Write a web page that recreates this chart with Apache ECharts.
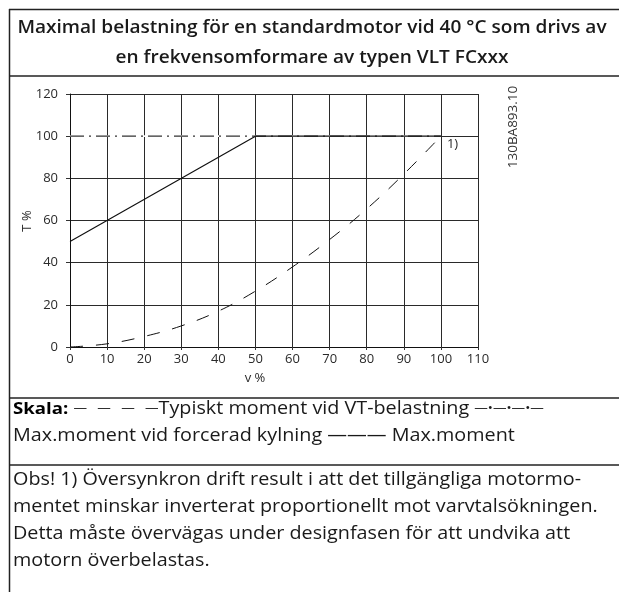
<!DOCTYPE html>
<html>
<head>
<meta charset="utf-8">
<script src="https://cdn.jsdelivr.net/npm/echarts@6/dist/echarts.min.js"></script>
<style>
  html, body { margin: 0; padding: 0; background: #fff; }
  #chart { width: 619px; height: 592px; }
</style>
</head>
<body>
<div id="chart"></div>
<script>
// Speed axis (v %) and torque axis (T %)
const speedTicks = [0, 10, 20, 30, 40, 50, 60, 70, 80, 90, 100, 110];
const torqueTicks = [0, 20, 40, 60, 80, 100, 120];

// Max torque with forced cooling (dash-dot)
const forcedCoolingSpeed = [0, 100];
const forcedCoolingTorque = [100, 100];

// Max torque (solid)
const maxTorqueSpeed = [0, 50, 100];
const maxTorqueValues = [50, 100, 100];

// Typical torque at VT load (dashed)
const vtSpeed = [0, 10, 20, 30, 40, 50, 60, 70, 80, 90, 100];
const vtTorque = [0, 1.5, 5, 10, 17, 26.5, 38, 51, 65.5, 82, 100];

const titleLines = [
  'Maximal belastning för en standardmotor vid 40 °C som drivs av',
  'en frekvensomformare av typen VLT FCxxx'
];
const legendLines = [
  '{b|Skala:} {d|—}  {d|—}  {d|—}  {d|—}Typiskt moment vid VT-belastning {d|—•—•—•—}',
  'Max.moment vid forcerad kylning ——— Max.moment'
];
const noteLines = [
  'Obs! 1) Översynkron drift result i att det tillgängliga motormo-',
  'mentet minskar inverterat proportionellt mot varvtalsökningen.',
  'Detta måste övervägas under designfasen för att undvika att',
  'motorn överbelastas.'
];
const drawingId = '130BA893.10';
const footnoteMark = '1)';
const xName = 'v %';
const yName = 'T %';

const FONT = '"Open Sans", "Noto Sans", sans-serif';
const TXT = '#1a1a1a';
const AXTXT = '#2a2a2a';

const pairs = (xs, ys) => xs.map((x, i) => [x, ys[i]]);

const chart = echarts.init(document.getElementById('chart'), null, { renderer: 'canvas' });

const graphics = [];
// frame lines
const hline = (y) => ({ type: 'line', shape: { x1: 9, y1: y, x2: 619, y2: y },
  style: { stroke: '#222', lineWidth: 1.5 }, silent: true });
graphics.push(hline(9.5), hline(76), hline(398), hline(465));
graphics.push({ type: 'line', shape: { x1: 9.5, y1: 9, x2: 9.5, y2: 592 },
  style: { stroke: '#222', lineWidth: 1.5 }, silent: true });

titleLines.forEach((t, i) => graphics.push({
  type: 'text', x: 312, y: 28 + i * 30, scaleX: 1.03,
  style: { text: t, fill: TXT, font: '600 18.5px ' + FONT, align: 'center', verticalAlign: 'middle' }
}));
legendLines.forEach((t, i) => graphics.push({
  type: 'text', x: 13, y: 409 + i * 27, scaleX: 1.13,
  style: { text: t, fill: TXT, fontSize: 17.5, fontFamily: FONT, align: 'left', verticalAlign: 'middle',
    rich: {
      b: { fontWeight: 'bold', fontSize: 16.5, fontFamily: FONT, fill: '#000' },
      d: { fontSize: 12, fontFamily: FONT, fill: TXT }
    } }
}));
noteLines.forEach((t, i) => graphics.push({
  type: 'text', x: 13, y: 480 + i * 27, scaleX: 1.13,
  style: { text: t, fill: TXT, fontSize: 17.5, fontFamily: FONT, align: 'left', verticalAlign: 'middle' }
}));
graphics.push({
  type: 'text', x: 513, y: 127, rotation: Math.PI / 2,
  style: { text: drawingId, fill: '#333', fontSize: 13.5, fontFamily: FONT, align: 'center', verticalAlign: 'middle' }
});
// axis names
graphics.push({
  type: 'text', x: 255, y: 378,
  style: { text: xName, fill: AXTXT, fontSize: 13, fontFamily: FONT, align: 'center', verticalAlign: 'middle' }
});
graphics.push({
  type: 'text', x: 27, y: 221, rotation: Math.PI / 2,
  style: { text: yName, fill: AXTXT, fontSize: 13, fontFamily: FONT, align: 'center', verticalAlign: 'middle' }
});

chart.setOption({
  animation: false,
  backgroundColor: '#fff',
  grid: { left: 70, right: 141, top: 94, bottom: 245, containLabel: false },
  xAxis: {
    type: 'value', min: speedTicks[0], max: speedTicks[speedTicks.length - 1], interval: 10,
    axisLine: { show: true, lineStyle: { color: '#111', width: 1 } },
    axisTick: { show: true, length: 3, lineStyle: { color: '#333' } },
    axisLabel: { margin: 6, color: AXTXT, fontSize: 13, fontFamily: FONT },
    splitLine: { show: true, lineStyle: { color: '#2a2a2a', width: 1 } }
  },
  yAxis: {
    type: 'value', min: torqueTicks[0], max: torqueTicks[torqueTicks.length - 1], interval: 20,
    axisLine: { show: true, lineStyle: { color: '#111', width: 1 } },
    axisTick: { show: true, length: 4, lineStyle: { color: '#333' } },
    axisLabel: { margin: 12, color: AXTXT, fontSize: 13, fontFamily: FONT },
    splitLine: { show: true, lineStyle: { color: '#2a2a2a', width: 1 } }
  },
  series: [
    {
      // white backing so the dash-dot gaps stay open over the grid line
      name: 'forcerad-bakgrund', type: 'line', symbol: 'none', silent: true,
      data: pairs(forcedCoolingSpeed, forcedCoolingTorque),
      lineStyle: { color: '#fff', width: 1.8, type: 'solid' }, z: 2
    },
    {
      name: 'Max.moment vid forcerad kylning', type: 'line', symbol: 'none',
      data: pairs(forcedCoolingSpeed, forcedCoolingTorque),
      lineStyle: { color: '#333', width: 1.2, type: [14, 5, 2, 5] }, z: 3
    },
    {
      name: 'Max.moment', type: 'line', symbol: 'none',
      data: pairs(maxTorqueSpeed, maxTorqueValues),
      lineStyle: { color: '#111', width: 1.2, type: 'solid' }, z: 4
    },
    {
      name: 'Typiskt moment vid VT-belastning', type: 'line', symbol: 'none', smooth: 0.4,
      data: pairs(vtSpeed, vtTorque),
      lineStyle: { color: '#111', width: 1, type: [13, 13] }, z: 5,
      endLabel: { show: true, formatter: footnoteMark, distance: 6, offset: [0, 8],
        color: AXTXT, fontSize: 13, fontFamily: FONT }
    }
  ],
  graphic: graphics
});
</script>
</body>
</html>
